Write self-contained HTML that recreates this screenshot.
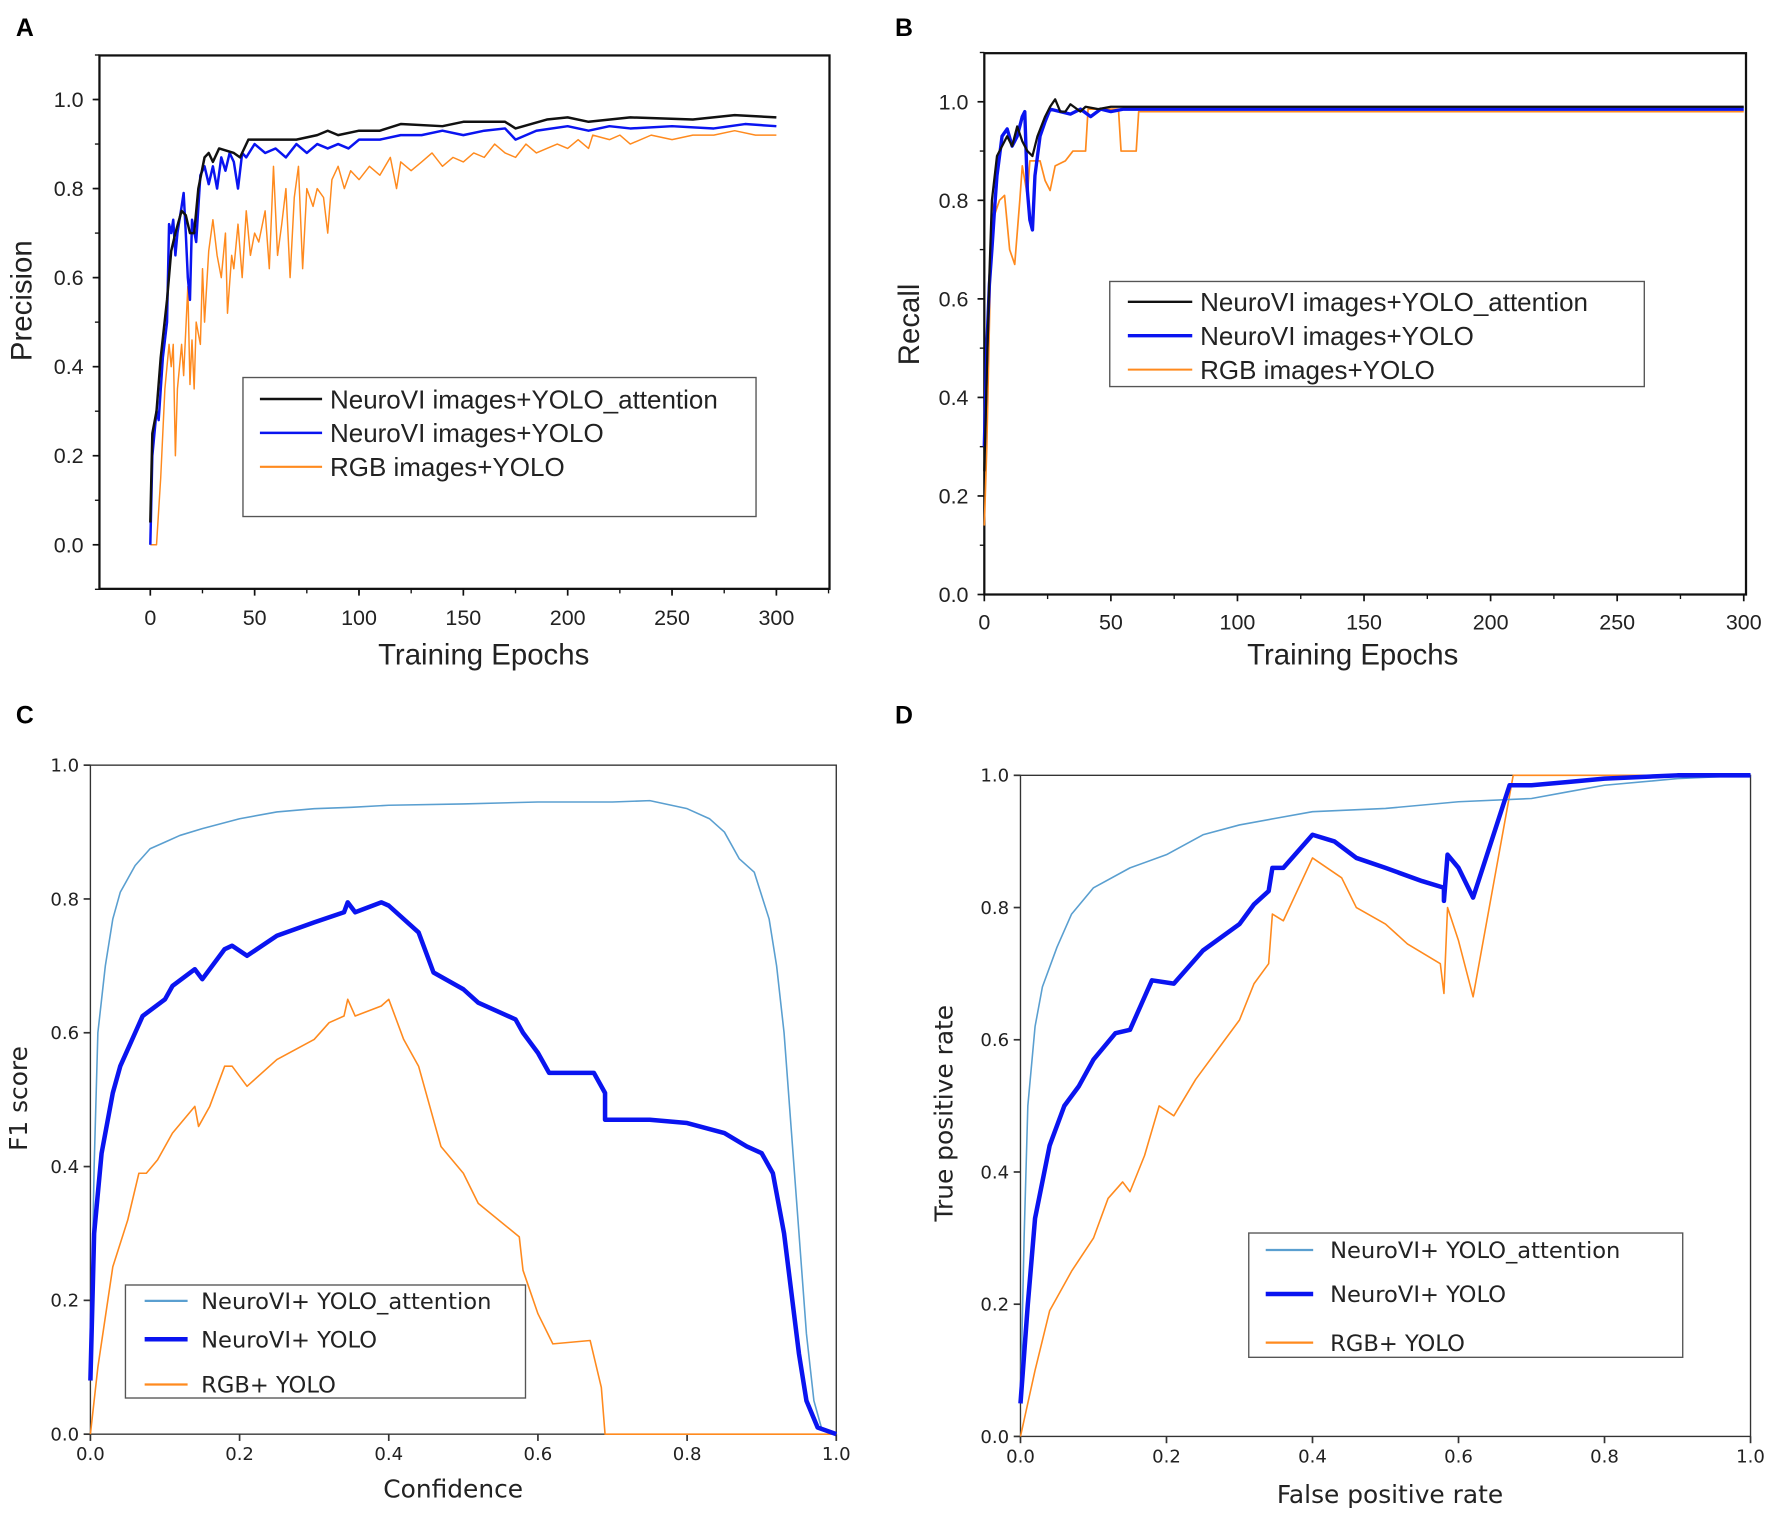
<!DOCTYPE html>
<html><head><meta charset="utf-8"><style>
html,body{margin:0;padding:0;background:#fff}
svg{display:block}
</style></head><body>
<svg id="fig" xmlns="http://www.w3.org/2000/svg" width="1772" height="1519" viewBox="0 0 1568 1344"></svg>
<script>
// ---------- Panel A: precision vs epochs ----------
const aAttn=[[0,0.05],[1,0.25],[3,0.3],[5,0.42],[8,0.55],[10,0.66],[12,0.7],[15,0.75],[17,0.74],[19,0.7],[21,0.7],[23,0.8],[26,0.87],[28,0.88],[30,0.86],[33,0.89],[40,0.88],[43,0.87],[47,0.91],[55,0.91],[60,0.91],[70,0.91],[80,0.92],[85,0.93],[90,0.92],[100,0.93],[110,0.93],[120,0.945],[140,0.94],[150,0.95],[170,0.95],[175,0.935],[190,0.955],[200,0.96],[210,0.95],[230,0.96],[260,0.955],[280,0.965],[300,0.96]];
const aYolo=[[0,0],[1,0.2],[3,0.3],[4,0.28],[6,0.42],[8,0.5],[9,0.72],[10,0.7],[11,0.73],[12,0.65],[13,0.7],[15,0.76],[16,0.79],[17,0.7],[18,0.6],[19,0.55],[20,0.73],[22,0.68],[24,0.83],[26,0.85],[28,0.81],[30,0.85],[32,0.8],[34,0.87],[36,0.84],[38,0.88],[40,0.86],[42,0.8],[44,0.88],[46,0.87],[50,0.9],[55,0.88],[60,0.89],[65,0.87],[70,0.9],[75,0.88],[80,0.9],[85,0.89],[90,0.9],[95,0.89],[100,0.91],[110,0.91],[120,0.92],[130,0.92],[140,0.93],[150,0.92],[160,0.93],[170,0.935],[175,0.91],[185,0.93],[200,0.94],[210,0.93],[220,0.94],[230,0.935],[250,0.94],[270,0.935],[285,0.945],[300,0.94]];
const aRgb=[[0,0],[3,0],[5,0.15],[7,0.35],[9,0.45],[10,0.4],[11,0.45],[12,0.2],[13,0.35],[15,0.45],[16,0.38],[18,0.58],[19,0.36],[20,0.46],[21,0.35],[22,0.5],[24,0.45],[25,0.62],[26,0.5],[28,0.66],[30,0.73],[32,0.65],[34,0.6],[36,0.7],[37,0.52],[39,0.65],[40,0.62],[42,0.72],[44,0.6],[46,0.75],[48,0.65],[50,0.7],[52,0.68],[55,0.75],[57,0.62],[59,0.85],[61,0.65],[63,0.72],[65,0.8],[67,0.6],[69,0.78],[71,0.85],[73,0.62],[75,0.8],[78,0.76],[80,0.8],[83,0.78],[85,0.7],[87,0.82],[90,0.85],[93,0.8],[96,0.84],[100,0.82],[105,0.85],[110,0.83],[115,0.87],[118,0.8],[120,0.86],[125,0.84],[130,0.86],[135,0.88],[140,0.85],[145,0.87],[150,0.86],[155,0.88],[160,0.87],[165,0.9],[170,0.88],[175,0.87],[180,0.9],[185,0.88],[190,0.89],[195,0.9],[200,0.89],[205,0.91],[210,0.89],[212,0.92],[220,0.91],[225,0.92],[230,0.9],[240,0.92],[250,0.91],[260,0.92],[270,0.92],[280,0.93],[290,0.92],[300,0.92]];
// ---------- Panel B: recall vs epochs ----------
const bAttn=[[0,0.25],[1,0.45],[2,0.65],[3,0.8],[5,0.89],[7,0.91],[9,0.93],[11,0.91],[13,0.95],[15,0.92],[17,0.9],[19,0.89],[21,0.93],[24,0.97],[26,0.99],[28,1.005],[30,0.98],[32,0.98],[34,0.995],[38,0.98],[40,0.99],[45,0.985],[50,0.99],[60,0.99],[300,0.99]];
const bYolo=[[0,0.3],[1,0.5],[2,0.63],[3,0.7],[4,0.78],[5,0.85],[7,0.93],[9,0.945],[11,0.91],[13,0.93],[15,0.97],[16,0.98],[17,0.82],[18,0.76],[19,0.74],[20,0.85],[22,0.93],[24,0.96],[26,0.985],[30,0.98],[34,0.975],[38,0.985],[42,0.97],[46,0.985],[50,0.98],[55,0.985],[60,0.985],[300,0.985]];
const bRgb=[[0,0.14],[1,0.3],[2,0.55],[3,0.8],[4,0.77],[6,0.8],[8,0.81],[10,0.7],[12,0.67],[14,0.8],[15,0.87],[17,0.81],[18,0.88],[22,0.88],[24,0.84],[26,0.82],[28,0.87],[32,0.88],[35,0.9],[40,0.9],[41,0.985],[53,0.985],[54,0.9],[60,0.9],[61,0.98],[300,0.98]];
// ---------- Panel C: F1 vs confidence ----------
const cAttn=[[0,0.1],[0.005,0.4],[0.01,0.6],[0.02,0.7],[0.03,0.77],[0.04,0.81],[0.06,0.85],[0.08,0.875],[0.1,0.885],[0.12,0.895],[0.15,0.905],[0.2,0.92],[0.25,0.93],[0.3,0.935],[0.35,0.937],[0.4,0.94],[0.5,0.942],[0.6,0.945],[0.7,0.945],[0.75,0.947],[0.8,0.935],[0.83,0.92],[0.85,0.9],[0.87,0.86],[0.89,0.84],[0.91,0.77],[0.92,0.7],[0.93,0.6],[0.94,0.45],[0.95,0.3],[0.96,0.15],[0.97,0.05],[0.98,0.01],[1,0]];
const cYolo=[[0,0.08],[0.005,0.3],[0.015,0.42],[0.03,0.51],[0.04,0.55],[0.06,0.6],[0.07,0.625],[0.1,0.65],[0.11,0.67],[0.14,0.695],[0.15,0.68],[0.18,0.725],[0.19,0.73],[0.21,0.715],[0.25,0.745],[0.3,0.765],[0.34,0.78],[0.345,0.795],[0.355,0.78],[0.39,0.795],[0.4,0.79],[0.44,0.75],[0.46,0.69],[0.5,0.665],[0.52,0.645],[0.57,0.62],[0.58,0.6],[0.6,0.57],[0.615,0.54],[0.675,0.54],[0.69,0.51],[0.69,0.47],[0.75,0.47],[0.8,0.465],[0.85,0.45],[0.88,0.43],[0.9,0.42],[0.915,0.39],[0.93,0.3],[0.95,0.12],[0.96,0.05],[0.975,0.01],[1,0]];
const cRgb=[[0,0],[0.01,0.1],[0.03,0.25],[0.05,0.32],[0.065,0.39],[0.075,0.39],[0.09,0.41],[0.11,0.45],[0.14,0.49],[0.145,0.46],[0.16,0.49],[0.18,0.55],[0.19,0.55],[0.21,0.52],[0.25,0.56],[0.3,0.59],[0.32,0.615],[0.34,0.625],[0.345,0.65],[0.355,0.625],[0.39,0.64],[0.4,0.65],[0.42,0.59],[0.44,0.55],[0.47,0.43],[0.5,0.39],[0.52,0.345],[0.575,0.295],[0.58,0.245],[0.6,0.18],[0.62,0.135],[0.67,0.14],[0.685,0.07],[0.69,0],[1,0]];
// ---------- Panel D: ROC ----------
const dAttn=[[0,0.05],[0.005,0.3],[0.01,0.5],[0.02,0.62],[0.03,0.68],[0.05,0.74],[0.07,0.79],[0.1,0.83],[0.15,0.86],[0.2,0.88],[0.25,0.91],[0.3,0.925],[0.35,0.935],[0.4,0.945],[0.5,0.95],[0.6,0.96],[0.7,0.965],[0.75,0.975],[0.8,0.985],[0.9,0.995],[1,1]];
const dYolo=[[0,0.05],[0.01,0.2],[0.02,0.33],[0.04,0.44],[0.06,0.5],[0.08,0.53],[0.1,0.57],[0.13,0.61],[0.15,0.615],[0.18,0.69],[0.21,0.685],[0.25,0.735],[0.3,0.775],[0.32,0.805],[0.34,0.825],[0.345,0.86],[0.36,0.86],[0.4,0.91],[0.43,0.9],[0.46,0.875],[0.5,0.86],[0.55,0.84],[0.58,0.83],[0.58,0.81],[0.585,0.88],[0.6,0.86],[0.62,0.815],[0.67,0.985],[0.7,0.985],[0.75,0.99],[0.8,0.995],[0.9,1],[1,1]];
const dRgb=[[0,0],[0.02,0.1],[0.04,0.19],[0.07,0.25],[0.1,0.3],[0.12,0.36],[0.14,0.385],[0.15,0.37],[0.17,0.425],[0.19,0.5],[0.21,0.485],[0.24,0.54],[0.28,0.6],[0.3,0.63],[0.32,0.685],[0.34,0.715],[0.345,0.79],[0.36,0.78],[0.4,0.875],[0.44,0.845],[0.46,0.8],[0.5,0.775],[0.53,0.745],[0.575,0.715],[0.58,0.67],[0.585,0.8],[0.6,0.75],[0.62,0.665],[0.675,1],[1,1]];
const epochTicks=[0,50,100,150,200,250,300];
const precTicks=[0,0.2,0.4,0.6,0.8,1.0];
const unitTicks=[0,0.2,0.4,0.6,0.8,1.0];

const NS='http://www.w3.org/2000/svg';
const svg=document.getElementById('fig');
function el(tag,attrs,parent,text){const e=document.createElementNS(NS,tag);for(const k in attrs)e.setAttribute(k,attrs[k]);if(text!==undefined)e.textContent=text;(parent||svg).appendChild(e);return e;}

function panel(P){
  const g=el('g',{});
  
  
  const sx=v=>P.px0+(v-P.x0)/(P.x1-P.x0)*(P.px1-P.px0);
  const sy=v=>P.py0-(v-P.y0)/(P.y1-P.y0)*(P.py0-P.py1);
  const L=el('text',{x:P.lab[0],y:P.lab[1],'font-family':'Liberation Sans, sans-serif','font-weight':'bold','font-size':22,fill:'#000'},g,P.id.toUpperCase());
  
  
  const F=P.frame;
  const fr=el('rect',{x:F[0],y:F[1],width:F[2]-F[0],height:F[3]-F[1],fill:'none',stroke:P.frameColor,'stroke-width':P.frameW},g);
  
  
  const font=P.font, tc=P.tickColor;
  // x ticks
  P.xticks.forEach(v=>{
    const x=sx(v);
    el('line',{x1:x,y1:F[3],x2:x,y2:F[3]+(P.tickOut?6:6),stroke:tc,'stroke-width':1.5},g);
    const t=el('text',{x:x,y:F[3]+P.xlabOff,'text-anchor':'middle','font-family':font,'font-size':P.tickFs,fill:'#222'},g,P.fmtX(v));
    
    
  });
  (P.xminor||[]).forEach(v=>{const x=sx(v);el('line',{x1:x,y1:F[3],x2:x,y2:F[3]+4,stroke:tc,'stroke-width':1.2},g);});
  P.yticks.forEach(v=>{
    const y=sy(v);
    el('line',{x1:F[0]-6,y1:y,x2:F[0],y2:y,stroke:tc,'stroke-width':1.5},g);
    const t=el('text',{x:F[0]-P.ylabOff,y:y+P.tickFs*0.35,'text-anchor':'end','font-family':font,'font-size':P.tickFs,fill:'#222'},g,v.toFixed(1));
    
    
  });
  (P.yminor||[]).forEach(v=>{const y=sy(v);el('line',{x1:F[0]-4,y1:y,x2:F[0],y2:y,stroke:tc,'stroke-width':1.2},g);});
  const xt=el('text',{x:P.xTitle[0],y:P.xTitle[1],'text-anchor':'middle','font-family':font,'font-size':P.titleFs,fill:'#222'},g,P.xTitle[2]);
  
  
  const yt=el('text',{x:0,y:0,'text-anchor':'middle','font-family':font,'font-size':P.titleFs,fill:'#222',transform:`translate(${P.yTitle[0]},${P.yTitle[1]}) rotate(-90)`},g,P.yTitle[2]);
  
  
  // series (draw in order)
  P.series.forEach(s=>{
    const d=s.data.map((p,i)=>(i?'L':'M')+sx(p[0]).toFixed(1)+' '+sy(p[1]).toFixed(1)).join(' ');
    const path=el('path',{d:d,fill:'none',stroke:s.color,'stroke-width':s.w,'stroke-linejoin':'round'},g);
    
    
  });
  // legend
  const LG=P.legend;
  const lg=el('g',{},g);
  
  
  el('rect',{x:LG.box[0],y:LG.box[1],width:LG.box[2]-LG.box[0],height:LG.box[3]-LG.box[1],fill:'#fff',stroke:'#555','stroke-width':1.2},lg);
  P.series.slice().sort((a,b)=>a.order-b.order).forEach((s,i)=>{
    const y=LG.ys[i];
    el('line',{x1:LG.lx[0],y1:y,x2:LG.lx[1],y2:y,stroke:s.color,'stroke-width':s.lw||s.w},lg);
    const t=el('text',{x:LG.tx,y:y+LG.fs*0.36,'font-family':font,'font-size':LG.fs,fill:'#222'},lg,s.label);
    
    
  });
}
const arial='Liberation Sans, Arial, sans-serif';
const dv='DejaVu Sans, sans-serif';
const ORG='#ff8a1e', LBLUE='#5a9fd0', BLUE='#0a14f0';
const mk=(a,b,s)=>{const r=[];for(let v=a;v<=b+1e-9;v+=s)r.push(+v.toFixed(3));return r;};

panel({id:'a',lab:[14,32],frame:[88,49,734,521],frameColor:'#111',frameW:2,
 x0:0,x1:300,px0:133,px1:687,y0:0,y1:1,py0:482,py1:88,
 xticks:epochTicks,xminor:mk(-25,325,25).filter(v=>v>=-24&&v<=325),yticks:precTicks,yminor:mk(-0.1,1.1,0.1),
 fmtX:v=>String(v),font:arial,tickFs:19,titleFs:26,tickColor:'#111',xlabOff:32,ylabOff:14,
 xTitle:[428,588,'Training Epochs'],yTitle:[28,266,'Precision'],
 series:[{key:'rgb-yolo',data:aRgb,color:ORG,w:1.3,lw:1.8,label:'RGB images+YOLO',order:3},
         {key:'neurovi-yolo',data:aYolo,color:BLUE,w:2.2,label:'NeuroVI images+YOLO',order:2},
         {key:'neurovi-yolo-attention',data:aAttn,color:'#111',w:2.2,label:'NeuroVI images+YOLO_attention',order:1}],
 legend:{box:[215,334,669,457],ys:[353,383,413],lx:[230,285],tx:292,fs:23}});

panel({id:'b',lab:[792,32],frame:[871,47,1545,526],frameColor:'#111',frameW:2,
 x0:0,x1:300,px0:871,px1:1543,y0:0,y1:1,py0:526,py1:90,
 xticks:epochTicks,xminor:mk(25,275,50),yticks:precTicks,yminor:mk(0.1,1.1,0.2),
 fmtX:v=>String(v),font:arial,tickFs:19,titleFs:26,tickColor:'#111',xlabOff:31,ylabOff:14,
 xTitle:[1197,588,'Training Epochs'],yTitle:[813,287,'Recall'],
 series:[{key:'rgb-yolo',data:bRgb,color:ORG,w:1.5,lw:1.8,label:'RGB images+YOLO',order:3},
         {key:'neurovi-yolo',data:bYolo,color:BLUE,w:3,label:'NeuroVI images+YOLO',order:2},
         {key:'neurovi-yolo-attention',data:bAttn,color:'#111',w:2,label:'NeuroVI images+YOLO_attention',order:1}],
 legend:{box:[982,249,1455,342],ys:[267,297,327],lx:[998,1055],tx:1062,fs:23}});

panel({id:'c',lab:[14,640],frame:[80,677,740,1269],frameColor:'#333',frameW:1.2,
 x0:0,x1:1,px0:80,px1:740,y0:0,y1:1,py0:1269,py1:677,
 xticks:unitTicks,yticks:unitTicks,fmtX:v=>v.toFixed(1),font:dv,tickFs:16,titleFs:22,tickColor:'#333',xlabOff:23,ylabOff:10,
 xTitle:[401,1325,'Confidence'],yTitle:[24,972,'F1 score'],
 series:[{key:'rgb-yolo',data:cRgb,color:ORG,w:1.4,lw:2,label:'RGB+ YOLO',order:3},
         {key:'neurovi-yolo-attention',data:cAttn,color:LBLUE,w:1.4,lw:2,label:'NeuroVI+ YOLO_attention',order:1},
         {key:'neurovi-yolo',data:cYolo,color:BLUE,w:4,label:'NeuroVI+ YOLO',order:2}],
 legend:{box:[111,1137,465,1237],ys:[1151,1185,1225],lx:[128,166],tx:178,fs:20}});

panel({id:'d',lab:[792,640],frame:[903,686,1549,1271],frameColor:'#333',frameW:1.2,
 x0:0,x1:1,px0:903,px1:1549,y0:0,y1:1,py0:1271,py1:686,
 xticks:unitTicks,yticks:unitTicks,fmtX:v=>v.toFixed(1),font:dv,tickFs:16,titleFs:22,tickColor:'#333',xlabOff:23,ylabOff:10,
 xTitle:[1230,1330,'False positive rate'],yTitle:[843,985,'True positive rate'],
 series:[{key:'rgb-yolo',data:dRgb,color:ORG,w:1.4,lw:2,label:'RGB+ YOLO',order:3},
         {key:'neurovi-yolo-attention',data:dAttn,color:LBLUE,w:1.4,lw:2,label:'NeuroVI+ YOLO_attention',order:1},
         {key:'neurovi-yolo',data:dYolo,color:BLUE,w:4,label:'NeuroVI+ YOLO',order:2}],
 legend:{box:[1105,1091,1489,1201],ys:[1106,1145,1188],lx:[1120,1162],tx:1177,fs:20}});
</script>
</body></html>
